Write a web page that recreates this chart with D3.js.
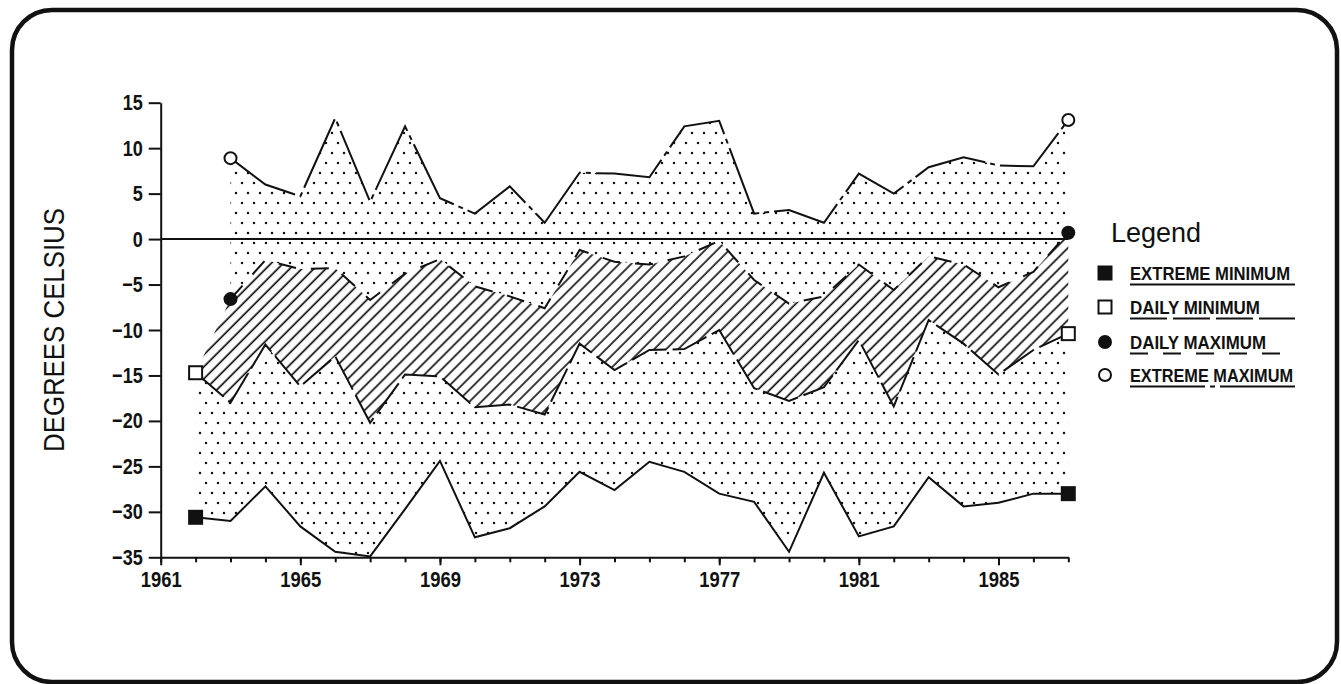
<!DOCTYPE html>
<html>
<head>
<meta charset="utf-8">
<script src="https://cdn.jsdelivr.net/npm/d3@7"></script>
<style>
    body { margin: 0; background: #fff; }
    svg { display: block; font-family: "Liberation Sans", Arial, sans-serif; }
</style>
</head>
<body>
<div id="chart"></div>
<script>

//--- Daten ------------------------------------------------------------------------------------------------ //

var years = [1962, 1963, 1964, 1965, 1966, 1967, 1968, 1969, 1970, 1971, 1972, 1973, 1974,
             1975, 1976, 1977, 1978, 1979, 1980, 1981, 1982, 1983, 1984, 1985, 1986, 1987];

var extremeMin = [-30.6, -31.0, -27.2, -31.6, -34.4, -34.9, -29.7, -24.4, -32.8, -31.8, -29.4, -25.6, -27.6,
                  -24.5, -25.6, -28.0, -28.9, -34.4, -25.7, -32.7, -31.6, -26.2, -29.4, -29.0, -28.0, -28.0];

var dailyMin = [-14.7, -18.0, -11.6, -16.2, -12.9, -20.2, -14.9, -15.1, -18.5, -18.2, -19.3, -11.5, -14.4,
                -12.2, -12.1, -10.0, -16.4, -17.8, -16.3, -11.1, -18.4, -8.9, -11.5, -14.9, -12.2, -10.4];

// no maximum values for 1962
var dailyMax = [null, -6.6, -2.3, -3.3, -3.2, -6.7, -3.8, -2.2, -5.2, -6.3, -7.6, -1.2, -2.5,
                -2.8, -1.9, -0.2, -4.5, -7.1, -6.3, -2.8, -5.6, -1.9, -2.8, -5.3, -3.6, 0.7];

var extremeMax = [null, 8.9, 6.0, 4.7, 13.3, 4.1, 12.4, 4.5, 2.8, 5.8, 1.8, 7.3, 7.2,
                  6.8, 12.4, 13.0, 2.8, 3.2, 1.8, 7.2, 5.0, 7.9, 9.0, 8.1, 8.0, 13.1];

var yTicks = [15, 10, 5, 0, -5, -10, -15, -20, -25, -30, -35];
var xTicksMajor = [1961, 1965, 1969, 1973, 1977, 1981, 1985];
var xTicksMinor = [1961, 1962, 1963, 1964, 1965, 1966, 1967, 1968, 1969, 1970, 1971, 1972, 1973, 1974,
                   1975, 1976, 1977, 1978, 1979, 1980, 1981, 1982, 1983, 1984, 1985, 1986, 1987];

var legendNames = ['EXTREME MINIMUM', 'DAILY MINIMUM', 'DAILY MAXIMUM', 'EXTREME MAXIMUM'];
var legendWidths = [160, 130, 136, 163];
var dashes = ['none', '37,6', '18,15', '75,5,5,5'];


//--- Zeichnen --------------------------------------------------------------------------------------------- //

var width = 1341, height = 684;

var svg = d3.select('#chart').append('svg')
    .attr('width', width)
    .attr('height', height);

var defs = svg.append('defs');

var dots = defs.append('pattern')
    .attr('id', 'dots')
    .attr('patternUnits', 'userSpaceOnUse')
    .attr('width', 12).attr('height', 20);
dots.append('rect').attr('width', 12).attr('height', 20).attr('fill', '#fff');
dots.append('circle').attr('cx', 2).attr('cy', 3).attr('r', 1.25).attr('fill', '#111');
dots.append('circle').attr('cx', 8).attr('cy', 13).attr('r', 1.25).attr('fill', '#111');

var hatch = defs.append('pattern')
    .attr('id', 'hatch')
    .attr('patternUnits', 'userSpaceOnUse')
    .attr('width', 8.5).attr('height', 8.5)
    .attr('patternTransform', 'rotate(45)');
hatch.append('rect').attr('width', 8.5).attr('height', 8.5).attr('fill', '#fff');
hatch.append('line').attr('x1', 4).attr('y1', 0).attr('x2', 4).attr('y2', 8.5)
    .attr('stroke', '#111').attr('stroke-width', 1.7);

// frame
svg.append('rect')
    .attr('x', 12).attr('y', 10)
    .attr('width', 1325).attr('height', 672)
    .attr('rx', 40).attr('ry', 40)
    .attr('fill', 'none')
    .attr('stroke', '#111')
    .attr('stroke-width', 4.5);

var x = d3.scaleLinear().domain([1961, 1987]).range([160.7, 1068.3]);
var y = d3.scaleLinear().domain([-35, 15]).range([557.3, 102.7]);

var rows = years.map(function (yr, i) {
    return { year: yr, emin: extremeMin[i], dmin: dailyMin[i], dmax: dailyMax[i], emax: extremeMax[i] };
});

var plot = svg.append('g');

// stippled areas
plot.append('path')
    .datum(rows)
    .attr('fill', 'url(#dots)')
    .attr('d', d3.area()
        .x(function (d) { return x(d.year); })
        .y0(function (d) { return y(d.emin); })
        .y1(function (d) { return y(d.dmin); }));

plot.append('path')
    .datum(rows)
    .attr('fill', 'url(#dots)')
    .attr('d', d3.area()
        .defined(function (d) { return d.emax !== null; })
        .x(function (d) { return x(d.year); })
        .y0(function (d) { return y(d.dmax); })
        .y1(function (d) { return y(d.emax); }));

// hatched band between daily min and daily max
plot.append('path')
    .datum(rows)
    .attr('fill', 'url(#hatch)')
    .attr('d', d3.area()
        .x(function (d) { return x(d.year); })
        .y0(function (d) { return y(d.dmin); })
        .y1(function (d) { return y(d.dmax === null ? d.dmin : d.dmax); }));

// zero line
plot.append('line')
    .attr('x1', x(1961)).attr('x2', x(1987))
    .attr('y1', y(0)).attr('y2', y(0))
    .attr('stroke', '#111').attr('stroke-width', 2);

var keys = ['emin', 'dmin', 'dmax', 'emax'];

keys.forEach(function (k, i) {
    plot.append('path')
        .datum(rows)
        .attr('fill', 'none')
        .attr('stroke', '#111')
        .attr('stroke-width', 2)
        .attr('stroke-dasharray', dashes[i])
        .attr('d', d3.line()
            .defined(function (d) { return d[k] !== null; })
            .x(function (d) { return x(d.year); })
            .y(function (d) { return y(d[k]); }));
});

//--- Marker ----------------------------------------------------------------------------------------------- //

function drawMarker(g, type, cx, cy) {
    if (type === 0 || type === 1) {
        g.append('rect')
            .attr('x', cx - 6.5).attr('y', cy - 6.5)
            .attr('width', 13).attr('height', 13)
            .attr('fill', type === 0 ? '#111' : '#fff')
            .attr('stroke', '#111').attr('stroke-width', 2);
    } else {
        g.append('circle')
            .attr('cx', cx).attr('cy', cy).attr('r', 6)
            .attr('fill', type === 2 ? '#111' : '#fff')
            .attr('stroke', '#111').attr('stroke-width', 2);
    }
}

keys.forEach(function (k, i) {
    var pts = rows.filter(function (d) { return d[k] !== null; });
    [pts[0], pts[pts.length - 1]].forEach(function (d) {
        drawMarker(plot, i, x(d.year), y(d[k]));
    });
});

//--- Achsen ----------------------------------------------------------------------------------------------- //

function squeeze(sel, f) {
    sel.each(function () {
        var w = this.getComputedTextLength();
        d3.select(this).attr('textLength', w * f).attr('lengthAdjust', 'spacingAndGlyphs');
    });
}

var yAxis = svg.append('g')
    .attr('transform', 'translate(' + x(1961) + ',0)')
    .call(d3.axisLeft(y).tickValues(yTicks).tickSize(12).tickSizeOuter(0).tickPadding(6));
yAxis.select('.domain').attr('stroke', '#111').attr('stroke-width', 2);
yAxis.selectAll('.tick line').attr('stroke', '#111').attr('stroke-width', 2);
yAxis.selectAll('.tick text')
    .attr('font-size', 22).attr('font-weight', 'bold')
    .attr('font-family', '"Liberation Sans", Arial, sans-serif')
    .attr('fill', '#111');
squeeze(yAxis.selectAll('.tick text'), 0.82);

var xMinor = svg.append('g')
    .attr('transform', 'translate(0,' + y(-35) + ')')
    .call(d3.axisBottom(x).tickValues(xTicksMinor).tickSize(5).tickSizeOuter(0).tickFormat(''));
xMinor.select('.domain').attr('stroke', '#111').attr('stroke-width', 2);
xMinor.selectAll('.tick line').attr('stroke', '#111').attr('stroke-width', 2);

var xMajor = svg.append('g')
    .attr('transform', 'translate(0,' + y(-35) + ')')
    .call(d3.axisBottom(x).tickValues(xTicksMajor).tickSize(8).tickSizeOuter(0).tickPadding(6)
        .tickFormat(d3.format('d')));
xMajor.select('.domain').remove();
xMajor.selectAll('.tick line').attr('stroke', '#111').attr('stroke-width', 2);
xMajor.selectAll('.tick text')
    .attr('font-size', 22).attr('font-weight', 'bold')
    .attr('font-family', '"Liberation Sans", Arial, sans-serif')
    .attr('fill', '#111');
xMajor.selectAll('.tick text').attr('textLength', 41).attr('lengthAdjust', 'spacingAndGlyphs');

// y title
svg.append('text')
    .attr('transform', 'translate(64,330) rotate(-90)')
    .attr('text-anchor', 'middle')
    .attr('font-size', 30)
    .attr('fill', '#111')
    .attr('textLength', 244)
    .attr('lengthAdjust', 'spacingAndGlyphs')
    .text('DEGREES CELSIUS');

//--- Legende ---------------------------------------------------------------------------------------------- //

var legend = svg.append('g');

legend.append('text')
    .attr('x', 1111).attr('y', 242)
    .attr('font-size', 27)
    .attr('fill', '#111')
    .text('Legend');

var rowY = [273, 307, 342, 375];

legendNames.forEach(function (name, i) {
    drawMarker(legend, i, 1105, rowY[i]);
    legend.append('text')
        .attr('x', 1130).attr('y', rowY[i] + 6.5)
        .attr('font-size', 18).attr('font-weight', 'bold')
        .attr('fill', '#111')
        .attr('textLength', legendWidths[i])
        .attr('lengthAdjust', 'spacingAndGlyphs')
        .text(name);
    legend.append('line')
        .attr('x1', 1130).attr('x2', i === 2 ? 1283 : 1295)
        .attr('y1', rowY[i] + 11.5).attr('y2', rowY[i] + 11.5)
        .attr('stroke', '#111').attr('stroke-width', 2)
        .attr('stroke-dasharray', dashes[i]);
});

</script>
</body>
</html>
